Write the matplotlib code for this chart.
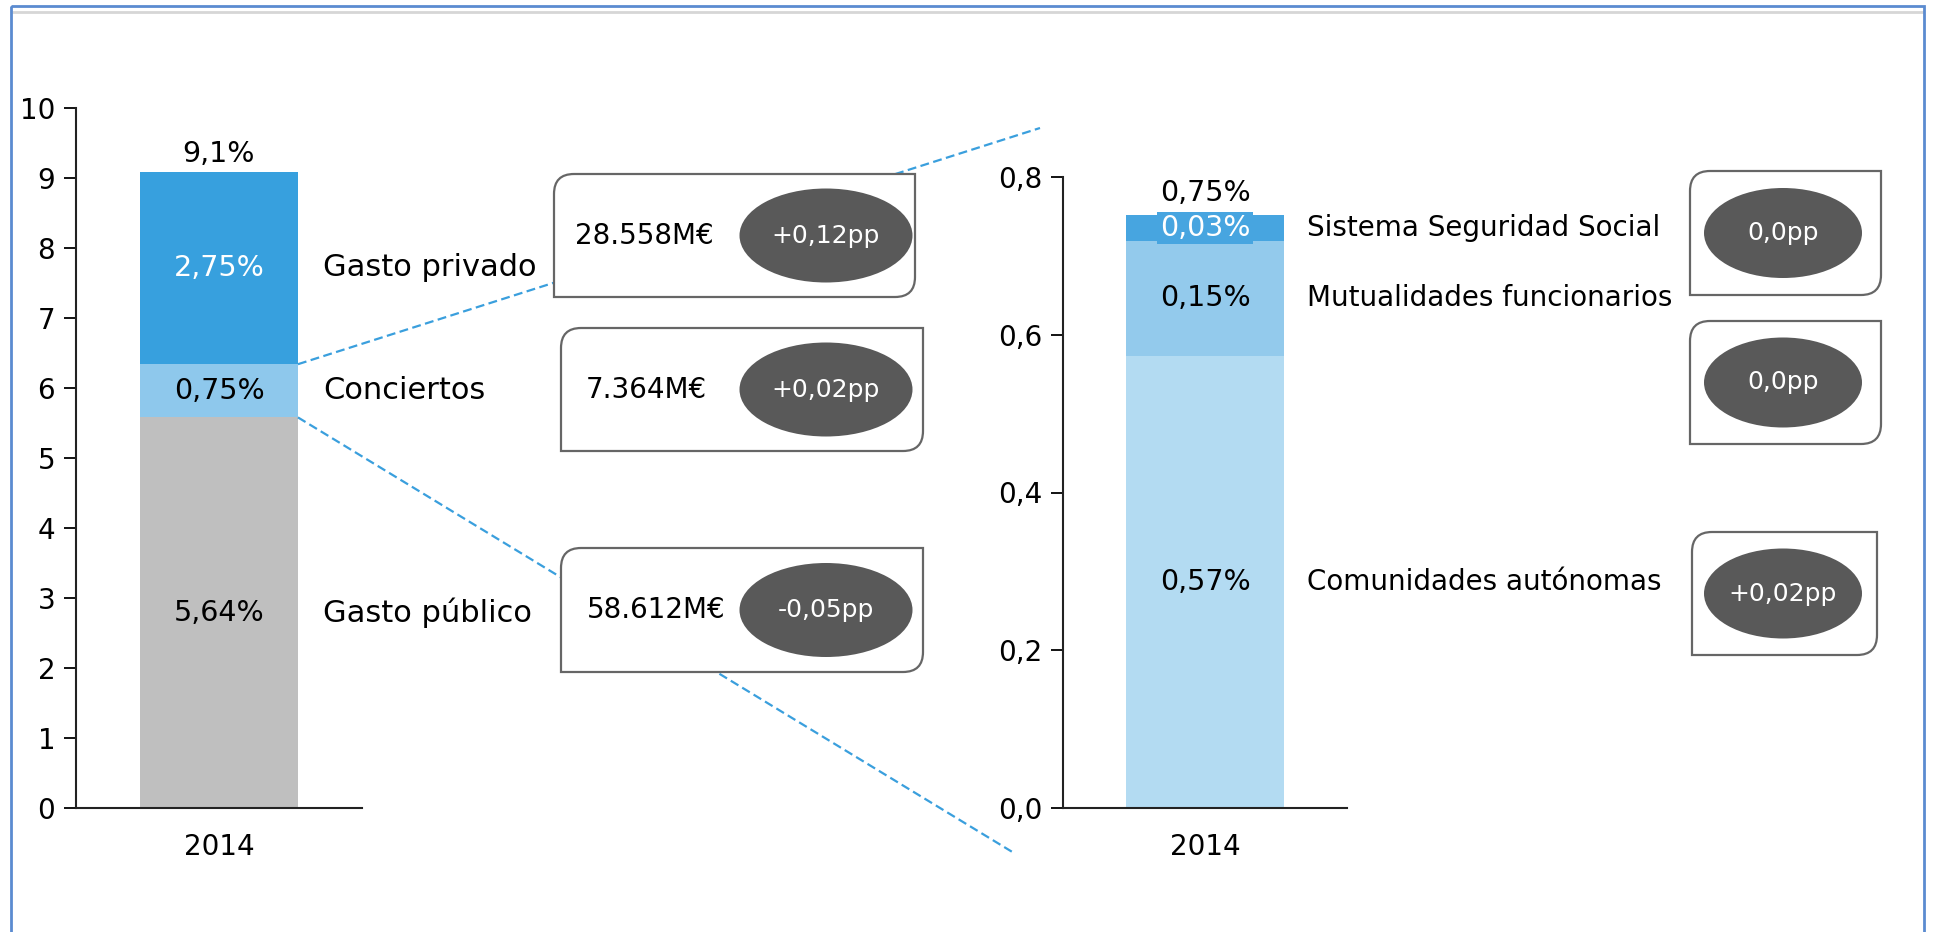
import matplotlib.pyplot as plt
from matplotlib.path import Path
from matplotlib.patches import PathPatch, Ellipse, Rectangle

# -------------------------------
# DATA (% of GDP, 2014)
# -------------------------------
year = "2014"

left_names = ["Gasto público", "Conciertos", "Gasto privado"]
left_values = [5.58, 0.76, 2.75]
left_labels = ["5,64%", "0,75%", "2,75%"]
left_total = "9,1%"
left_ticks = [0, 1, 2, 3, 4, 5, 6, 7, 8, 9, 10]

right_names = ["Comunidades autónomas", "Mutualidades funcionarios", "Sistema Seguridad Social"]
right_values = [0.573, 0.146, 0.033]
right_labels = ["0,57%", "0,15%", "0,03%"]
right_total = "0,75%"
right_ticks = [0.0, 0.2, 0.4, 0.6, 0.8]
right_ticklabels = ["0,0", "0,2", "0,4", "0,6", "0,8"]

# boxes next to the bars (top to bottom)
left_box_amounts = ["28.558M€", "7.364M€", "58.612M€"]
left_box_changes = ["+0,12pp", "+0,02pp", "-0,05pp"]
right_box_changes = ["0,0pp", "0,0pp", "+0,02pp"]

left_colors = ["#bfbfbf", "#8ec8ec", "#37a0de"]
left_text_colors = ["black", "black", "white"]
right_colors = ["#b3dbf2", "#93caec", "#47a5e0"]
right_text_colors = ["black", "black", "white"]

W, H = 1934, 932
fig = plt.figure(figsize=(W / 100, H / 100), dpi=100)


def frac_box(x0, y0, x1, y1):
    return [x0 / W, 1 - y1 / H, (x1 - x0) / W, (y1 - y0) / H]


def style_axis(ax):
    for s in ["top", "right"]:
        ax.spines[s].set_visible(False)
    for s in ["left", "bottom"]:
        ax.spines[s].set_linewidth(1.5)
        ax.spines[s].set_color("#222222")
    ax.tick_params(axis="y", direction="out", length=9, width=1.3, labelsize=20, pad=6)
    ax.tick_params(axis="x", length=0, labelsize=20, pad=18)
    ax.set_facecolor("none")


# -------------------------------
# LEFT BAR
# -------------------------------
ax1 = fig.add_axes(frac_box(76, 108, 362, 808))
bottom = 0
for v, c, lab, tc, name in zip(left_values, left_colors, left_labels, left_text_colors, left_names):
    ax1.bar(0, v, bottom=bottom, width=0.552, color=c, zorder=2)
    ax1.text(0, bottom + v / 2, lab, ha="center", va="center", fontsize=20.5, color=tc, zorder=3)
    ax1.text(0.864, bottom + v / 2, name, transform=ax1.get_yaxis_transform(),
             ha="left", va="center", fontsize=22)
    bottom += v
ax1.annotate(left_total, (0, bottom), xytext=(0, 3), textcoords="offset points",
             ha="center", va="bottom", fontsize=20.5)
ax1.set_xlim(-0.5, 0.5)
ax1.set_ylim(0, 10)
ax1.set_yticks(left_ticks)
ax1.set_xticks([0])
ax1.set_xticklabels([year])
style_axis(ax1)

# -------------------------------
# RIGHT BAR (zoom)
# -------------------------------
ax2 = fig.add_axes(frac_box(1063, 177, 1347, 808))
bottom = 0
for i, (v, c, lab, tc, name) in enumerate(zip(right_values, right_colors, right_labels,
                                              right_text_colors, right_names)):
    ax2.bar(0, v, bottom=bottom, width=0.556, color=c, zorder=2)
    bbox = None
    if i == len(right_values) - 1:
        bbox = dict(boxstyle="square,pad=0.08", facecolor=c, edgecolor="none")
    ax2.text(0, bottom + v / 2, lab, ha="center", va="center", fontsize=20.5, color=tc,
             zorder=3, bbox=bbox)
    ax2.text(0.859, bottom + v / 2, name, transform=ax2.get_yaxis_transform(),
             ha="left", va="center", fontsize=20)
    bottom += v
ax2.annotate(right_total, (0, bottom), xytext=(0, 6), textcoords="offset points",
             ha="center", va="bottom", fontsize=20.5, zorder=1)
ax2.set_xlim(-0.5, 0.5)
ax2.set_ylim(0, 0.8)
ax2.set_yticks(right_ticks)
ax2.set_yticklabels(right_ticklabels)
ax2.set_xticks([0])
ax2.set_xticklabels([year])
style_axis(ax2)

# -------------------------------
# OVERLAY (pixel coordinates, y down)
# -------------------------------
ov = fig.add_axes([0, 0, 1, 1])
ov.set_xlim(0, W)
ov.set_ylim(H, 0)
ov.axis("off")
ov.set_zorder(5)


def to_px(ax, x, y):
    dx, dy = ax.transData.transform((x, y))
    return dx, H - dy


# dashed connectors from the "Conciertos" segment edges
edge = 0.552 / 2
p_top = to_px(ax1, edge, left_values[0] + left_values[1])
p_bot = to_px(ax1, edge, left_values[0])
for start, end in [(p_top, (1040, 128)), (p_bot, (1014, 853))]:
    ov.plot([start[0], end[0]], [start[1], end[1]], color="#3a9fdd", lw=1.6,
            dashes=(4, 2), zorder=1)


def snip_box(x0, y0, x1, y1, r=20):
    verts = [(x0 + r, y0), (x1, y0), (x1, y1 - r), (x1, y1), (x1 - r, y1),
             (x0, y1), (x0, y0 + r), (x0, y0), (x0 + r, y0), (x0 + r, y0)]
    codes = [Path.MOVETO, Path.LINETO, Path.LINETO, Path.CURVE3, Path.CURVE3,
             Path.LINETO, Path.LINETO, Path.CURVE3, Path.CURVE3, Path.CLOSEPOLY]
    return PathPatch(Path(verts, codes), facecolor="white", edgecolor="#666666",
                     lw=1.6, zorder=2)


left_boxes = [(554, 174, 915, 297), (561, 328, 923, 451), (561, 548, 923, 672)]
amount_x = [644, 646, 656]
for (x0, y0, x1, y1), amt, chg, ax_ in zip(left_boxes, left_box_amounts, left_box_changes, amount_x):
    cy = (y0 + y1) / 2
    ov.add_patch(snip_box(x0, y0, x1, y1))
    ov.text(ax_, cy, amt, ha="center", va="center", fontsize=20, zorder=4)
    ov.add_patch(Ellipse((826, cy), 173, 94, facecolor="#595959", edgecolor="none", zorder=3))
    ov.text(826, cy, chg, ha="center", va="center", fontsize=18, color="white", zorder=4)

right_boxes = [(1690, 171, 1881, 295), (1690, 321, 1881, 444), (1692, 532, 1877, 655)]
for (x0, y0, x1, y1), chg in zip(right_boxes, right_box_changes):
    cy = (y0 + y1) / 2
    ov.add_patch(snip_box(x0, y0, x1, y1))
    ov.add_patch(Ellipse((1783, cy), 158, 90, facecolor="#595959", edgecolor="none", zorder=3))
    ov.text(1783, cy, chg, ha="center", va="center", fontsize=18, color="white", zorder=4)

# outer frame
ov.add_patch(Rectangle((11, 6), 1913, 960, fill=False, edgecolor="#5b8bd0", lw=2, zorder=6))
ov.plot([13, 1922], [11.5, 11.5], color="#d6d6d6", lw=2, zorder=5)

plt.savefig("out.png", dpi=100)
plt.close()
